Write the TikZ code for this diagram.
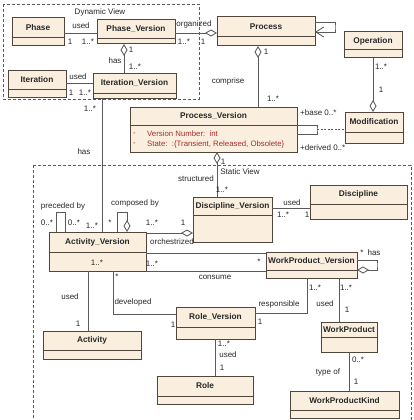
\documentclass[tikz,border=0pt]{standalone}
\usepackage{fontspec}
\setmainfont{Liberation Sans}
\usetikzlibrary{arrows.meta}
\definecolor{boxfill}{RGB}{250,239,223}
\definecolor{boxdraw}{RGB}{80,70,60}
\definecolor{linecol}{RGB}{90,90,90}
\definecolor{attrred}{RGB}{165,45,45}
\definecolor{txtcol}{RGB}{40,40,40}
\tikzset{
 ubox/.style={draw=boxdraw, fill=boxfill, line width=1pt, inner sep=0, outer sep=0},
 ubord/.style={draw=boxdraw, line width=1pt},
 utitle/.style={font=\bfseries\fontsize{8.3}{9}\selectfont, text=txtcol, inner sep=0},
 lbl/.style={font=\fontsize{8}{9}\selectfont, text=txtcol, inner sep=0},
 attr/.style={font=\fontsize{7.8}{9}\selectfont, text=attrred, inner sep=0, anchor=west},
 conn/.style={draw=linecol, line width=0.85pt},
 agg/.style={conn, -{Diamond[open, length=12pt, width=7pt]}},
 aggs/.style={conn, {Diamond[open, length=12pt, width=7pt]}-},
 viewbox/.style={draw=linecol, dash pattern=on 3pt off 2pt, line width=0.8pt},
}
\newcommand\umlbox[7]{%
  \node[ubox, minimum width={#4pt-#2pt}, minimum height={#5pt-#3pt}, anchor=north west] (#1) at (#2,#3) {};
  \draw[ubord] (#2,#6) -- (#4,#6);
  \node[utitle] (#1-t) at ({(#2+#4)/2},{(#3+#6)/2}) {#7};
}
\begin{document}
\begin{tikzpicture}[x=1pt,y=-1pt]
\useasboundingbox (0,0) rectangle (414,420);
\fill[white] (0,0) rectangle (414,420);
% view frames
\draw[viewbox] (3,4) rectangle (199,99);
\node[lbl] (dynlbl) at (100,12) {Dynamic View};
\draw[viewbox] (33,165) rectangle (411,426);
\node[lbl] (statlbl) at (240,172) {Static View};
% boxes
\umlbox{phase}{12}{18}{64}{46}{38}{Phase}
\umlbox{phv}{97}{20}{175}{44}{39}{Phase\_Version}
\umlbox{iter}{8}{70}{66}{97}{89}{Iteration}
\umlbox{itv}{93}{73}{176}{98}{93}{Iteration\_Version}
\umlbox{proc}{217}{17}{315}{46}{37}{Process}
\umlbox{oper}{344}{32}{402}{58}{50}{Operation}
\umlbox{mod}{345}{112}{403}{143}{132}{Modification}
\umlbox{pv}{130}{107}{297}{152}{125}{Process\_Version}
\node[attr] (a1m) at (133,134) {-};
\node[attr] (a1) at (147,134) {Version Number:\ \ int};
\node[attr] (a2m) at (133,144) {-};
\node[attr] (a2) at (147,144) {State:\ \ :\{Transient, Released, Obsolete\}};
\umlbox{dv}{193}{197}{272}{242}{215}{Discipline\_Version}
\umlbox{disc}{310}{185}{407}{219}{204}{Discipline}
\umlbox{av}{49}{232}{146}{271}{252}{Activity\_Version}
\umlbox{wpv}{266}{252}{357}{278}{270}{WorkProduct\_Version}
\umlbox{rv}{176}{307}{255}{339}{327}{Role\_Version}
\umlbox{act}{43}{331}{141}{359}{350}{Activity}
\umlbox{role}{157}{376}{253}{404}{396}{Role}
\umlbox{wp}{321}{322}{377}{352}{337}{WorkProduct}
\umlbox{wpk}{290}{391}{399}{418}{410}{WorkProductKind}
% connectors
\draw[conn] (phase.east |- 0,33) -- (phv.west |- 0,33);
\node[lbl] (l1) at (81,26) {used};
\node[lbl] (l2) at (70,42) {1};
\node[lbl] (l3) at (88,42) {1..*};
\draw[conn] (iter.east |- 0,83) -- (itv.west |- 0,83);
\node[lbl] (l4) at (78,77) {used};
\node[lbl] (l5) at (71,93) {1};
\node[lbl] (l6) at (85,93) {1..*};
\draw[aggs] (phv.south -| 124,0) -- (itv.north -| 124,0);
\node[lbl] (l7) at (131,50) {1};
\node[lbl] (l8) at (115,61) {has};
\node[lbl] (l9) at (135,67) {1..*};
\draw[agg] (phv.east |- 0,33) -- (proc.west |- 0,33);
\node[lbl] (l10) at (194,24) {organized};
\node[lbl] (l11) at (184,42) {1..*};
\node[lbl] (l12) at (203,42) {1};
\coordinate (ploop) at (335,27);
\draw[conn, -{Straight Barb[length=8pt, width=10pt]}] (proc.east |- 0,22) -| (ploop) |- (proc.east |- 0,32);
\draw[aggs] (proc.south -| 258,0) -- (pv.north -| 258,0);
\node[lbl] (l13) at (266,52) {1};
\node[lbl] (l14) at (228,81) {comprise};
\node[lbl] (l15) at (273,99) {1..*};
\draw[agg] (oper.south -| 373,0) -- (mod.north -| 373,0);
\node[lbl] (l16) at (381,67) {1..*};
\node[lbl] (l17) at (381,90) {1};
\coordinate (pvl) at (317,129.5);
\draw[conn] (pv.east |- 0,125) -| (pvl) |- (pv.east |- 0,134);
\draw[conn, dash pattern=on 2pt off 1.5pt] (pvl) -- (mod.west |- pvl);
\node[lbl, anchor=west] (l18) at (300,113) {+base 0..*};
\node[lbl, anchor=west] (l19) at (300,148) {+derived 0..*};
\draw[conn] (itv.south -| 102,0) -- (av.north -| 102,0);
\node[lbl] (l20) at (90,109) {1..*};
\node[lbl] (l21) at (84,152) {has};
\node[lbl] (l22) at (92,226) {1..*};
\draw[aggs] (pv.south -| 217,0) -- (dv.north -| 217,0);
\node[lbl] (l23) at (223,162) {1};
\node[lbl] (l24) at (196,179) {structured};
\node[lbl] (l25) at (222,190) {1..*};
\draw[conn] (dv.east |- 0,208) -- (disc.west |- 0,208);
\node[lbl] (l26) at (292,203) {used};
\node[lbl] (l27) at (283,215) {1..*};
\node[lbl] (l28) at (307,215) {1};
\coordinate (prec) at (65,212);
\draw[conn] (av.north -| 56,0) |- (prec) -- (av.north -| prec);
\node[lbl] (l29) at (63,206) {preceded by};
\node[lbl] (l30) at (47,223) {0..*};
\node[lbl] (l31) at (74,223) {0..*};
\coordinate (comp) at (127,212);
\draw[agg] (av.north -| 117,0) |- (comp) -- (av.north -| comp);
\node[lbl] (l32) at (135,203) {composed by};
\node[lbl] (l33) at (110,223) {*};
\draw[agg] (av.east |- 0,233) -- (dv.west |- 0,233);
\node[lbl] (l34) at (152,223) {1..*};
\node[lbl] (l35) at (183,223) {1};
\node[lbl] (l36) at (172,242) {orchestrized};
\draw[conn] (av.east |- 0,253) -- (wpv.west |- 0,253);
\draw[conn] (av.east |- 0,271) -- (wpv.west |- 0,271);
\node[lbl] (l37) at (152,264) {1..*};
\node[lbl] (l38) at (259,262) {*};
\node[lbl] (l39) at (215,277) {consume};
\coordinate (wloop) at (377,265);
\draw[agg] (wpv.east |- 0,260) -| (wloop) |- (wpv.east |- 0,270);
\node[lbl] (l40) at (362,253) {*};
\node[lbl] (l41) at (374,253) {has};
\draw[conn] (wpv.south -| 307,0) |- (rv.east |- 0,313);
\node[lbl] (l42) at (315,288) {1..*};
\node[lbl] (l43) at (279,304) {responsible};
\node[lbl] (l44) at (260,322) {1};
\draw[conn] (wpv.south -| 339,0) -- (wp.north -| 339,0);
\node[lbl] (l45) at (346,288) {1..*};
\node[lbl] (l46) at (325,304) {used};
\node[lbl] (l47) at (347,310) {1};
\draw[conn] (av.south -| 113,0) |- (rv.west |- 0,314);
\node[lbl] (l48) at (117,277) {*};
\node[lbl] (l49) at (133,302) {developed};
\node[lbl] (l50) at (173,325) {1};
\draw[conn] (av.south -| 88,0) -- (act.north -| 88,0);
\node[lbl] (l51) at (70,297) {used};
\node[lbl] (l52) at (78,324) {1};
\node[lbl] (l53) at (97,263) {1..*};
\draw[conn] (rv.south -| 215,0) -- (role.north -| 215,0);
\node[lbl] (l54) at (224,344) {1..*};
\node[lbl] (l55) at (228,355) {used};
\node[lbl] (l56) at (222,368) {1};
\draw[conn] (wp.south -| 349,0) -- (wpk.north -| 349,0);
\node[lbl] (l57) at (358,360) {0..*};
\node[lbl] (l58) at (328,372) {type of};
\node[lbl] (l59) at (356,382) {1};
\end{tikzpicture}
\end{document}
